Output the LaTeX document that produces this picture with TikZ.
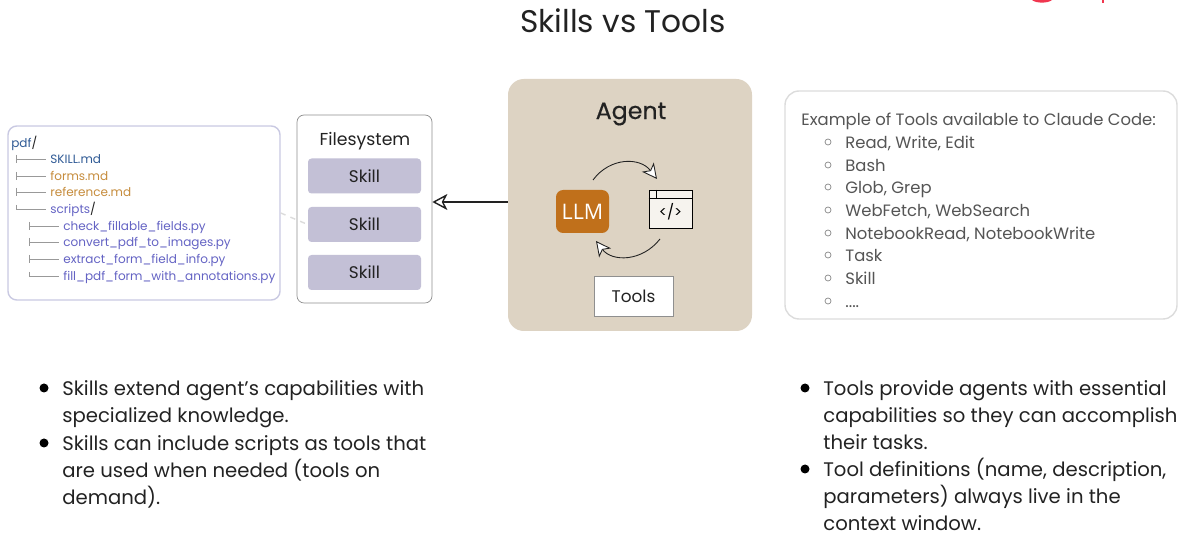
\documentclass[tikz,border=0pt]{standalone}
\usepackage{fontspec}
\setmainfont{Poppins}
\newfontfamily\agentfont[FakeBold=0.5]{Poppins}
\newfontfamily\llmfont{Open Sans}
\usetikzlibrary{positioning, arrows.meta}
\definecolor{panelstroke}{HTML}{c9c9e2}
\definecolor{boxstroke}{HTML}{8f8f8f}
\definecolor{skillfill}{HTML}{c3c0d6}
\definecolor{agentfill}{HTML}{ddd3c3}
\definecolor{llmfill}{HTML}{c0701b}
\definecolor{winfill}{HTML}{f6f3ee}
\definecolor{inkdark}{HTML}{222222}
\definecolor{inkgrey}{HTML}{555555}
\definecolor{toolstroke}{HTML}{dcdcdc}
\definecolor{treeblue}{HTML}{2f5a95}
\definecolor{treeorange}{HTML}{c68c3c}
\definecolor{treeviolet}{HTML}{6463c4}
\definecolor{logored}{HTML}{f0364f}

\begin{document}
\begin{tikzpicture}[
  x=0.02cm, y=-0.02cm,
  font=\fontsize{11.18}{15.4}\selectfont,
  panel/.style={rectangle, rounded corners=5pt, draw=panelstroke, thick, fill=white,
                minimum width=272*0.02cm, minimum height=174*0.02cm, inner sep=0pt},
  fsbox/.style={rectangle, rounded corners=4pt, draw=boxstroke, fill=white,
                minimum width=135*0.02cm, minimum height=188*0.02cm, inner sep=0pt},
  skill/.style={rectangle, rounded corners=2pt, fill=skillfill, text=inkdark,
                minimum width=113*0.02cm, minimum height=35*0.02cm, inner sep=0pt,
                font=\fontsize{9.6}{12}\selectfont},
  agent/.style={rectangle, rounded corners=9pt, fill=agentfill,
                minimum width=244*0.02cm, minimum height=252*0.02cm, inner sep=0pt},
  llm/.style={rectangle, rounded corners=4pt, fill=llmfill, text=white,
              minimum width=53*0.02cm, minimum height=43*0.02cm, inner sep=0pt,
              font=\llmfont\fontsize{12.2}{15}\selectfont},
  window/.style={rectangle, draw=black, fill=winfill,
                 minimum width=43*0.02cm, minimum height=38*0.02cm, inner sep=0pt},
  toolsbox/.style={rectangle, draw=boxstroke, fill=white, text=inkdark,
                   minimum width=79*0.02cm, minimum height=40*0.02cm, inner sep=0pt,
                   font=\fontsize{9.6}{12}\selectfont},
  listbox/.style={rectangle, rounded corners=8pt, draw=toolstroke, thick, fill=white,
                  minimum width=392*0.02cm, minimum height=228*0.02cm, inner sep=0pt},
  heading/.style={anchor=center, text=inkdark, inner sep=0pt},
  treetext/.style={anchor=west, inner sep=0pt, text height=6.5pt, text depth=1.5pt,
                   font=\fontsize{6.85}{9}\selectfont},
  treeline/.style={draw=inkgrey!60, line width=0.5pt},
  listtext/.style={anchor=west, inner sep=0pt, text=inkgrey, text height=9.6pt, text depth=2.4pt,
                   font=\fontsize{9.35}{12}\selectfont},
  listmark/.style={circle, draw=inkgrey!70, minimum size=6*0.02cm, inner sep=0pt},
  bullettext/.style={anchor=north west, align=left, inner sep=0pt, text=inkdark},
  bulletmark/.style={circle, fill=black, minimum size=9*0.02cm, inner sep=0pt},
  loop/.style={-{Stealth[length=3mm, width=3mm, inset=0.8mm, fill=white]}, draw=inkdark, line width=0.5pt},
  arrow/.style={-{Stealth[length=3mm, width=3.2mm, inset=0.8mm, fill=white]}, draw=inkdark, line width=0.8pt}
]
\useasboundingbox (0,0) rectangle (1182,546);

% Logo cut off by the top edge
\fill[logored] (1032,0) .. controls (1036,3.5) and (1048,3.5) .. (1052,0) -- cycle;
\fill[logored] (1102,0) rectangle (1104,3);

\node[heading, font=\fontsize{17.8}{22}\selectfont] (title) at (623,21) {Skills vs Tools};

% File tree panel
\node[panel] (tree) at (144,213) {};
\node[treetext, text=treeblue] (root) at (11,143) {pdf\textcolor{inkdark}{/}};
\foreach \name/\px/\py/\clr/\txt in {
    skillmd/50/159/treeblue/SKILL.md,
    forms/50/176/treeorange/forms.md,
    reference/50/192/treeorange/reference.md,
    scripts/50/209/treeviolet/scripts\textcolor{inkdark}{/},
    check/63/226/treeviolet/check\_fillable\_fields.py,
    convert/63/242/treeviolet/convert\_pdf\_to\_images.py,
    extract/63/259/treeviolet/extract\_form\_field\_info.py,
    fill/63/276/treeviolet/fill\_pdf\_form\_with\_annotations.py} {
  \node[treetext, text=\clr] (\name) at (\px,\py) {\txt};
  \draw[treeline] ([xshift=-34*0.02cm]\name.west) -- ([xshift=-4*0.02cm]\name.west);
  \draw[treeline] ([xshift=-34*0.02cm, yshift=4*0.02cm]\name.west) -- ([xshift=-34*0.02cm]\name.west);
}
% Lower half of the ticks, except on the last row of each level
\foreach \name in {skillmd, forms, reference, check, convert, extract} {
  \draw[treeline] ([xshift=-34*0.02cm]\name.west) -- ([xshift=-34*0.02cm, yshift=-4*0.02cm]\name.west);
}

% Filesystem
\node[fsbox] (fs) at (364.5,209) {};
\node[heading, font=\fontsize{9.85}{13}\selectfont] (fslabel) at (365,141) {Filesystem};
\node[skill] (skilla) at (364.5,176) {Skill};
\node[skill] (skillb) at (364.5,224.5) {Skill};
\node[skill] (skillc) at (364.5,272.5) {Skill};

% Agent
\node[agent] (agent) at (630,205) {};
\node[heading, font=\agentfont\fontsize{13.5}{16}\selectfont] (agentlabel) at (631,114) {Agent};
\node[llm] (llm) at (582.5,211.5) {LLM};
\node[window] (win) at (670.5,209) {};
\coordinate (winl) at (win.west |- 0,198);
\coordinate (winr) at (win.east |- 0,198);
\draw[line width=0.5pt] (winl) -- (winr);
\draw[line width=0.5pt] (656,190) -- (656,198);
\node[inner sep=0pt, font=\fontsize{8.5}{10}\selectfont] (code) at (670.5,212) {</>};
\node[toolsbox] (tools) at (633.5,296) {Tools};

\coordinate (loopa) at (593,180);
\coordinate (loopb) at (657,179);
\coordinate (loopc) at (660,239);
\coordinate (loopd) at (596,241);
\draw[loop] (loopa) .. controls (610,157) and (640,157) .. (loopb);
\draw[loop] (loopc) .. controls (642,262) and (612,262) .. (loopd);

\draw[arrow] (agent.west |- 0,202) -- (fs.east |- 0,202);
\draw[draw=toolstroke, dashed, thick] (tree.east |- 0,213) -- (skillb.west);

% Tool list
\node[listbox] (list) at (981,205) {};
\node[listtext] (listhead) at (801,119) {Example of Tools available to Claude Code:};
\foreach \n/\py/\txt in {
    a/142/{Read, Write, Edit}, b/165/Bash, c/187/{Glob, Grep},
    d/210/{WebFetch, WebSearch}, e/233/{NotebookRead, NotebookWrite},
    f/255/Task, g/278/Skill, h/301/{....}} {
  \node[listtext] (item\n) at (845,\py) {\txt};
  \node[listmark] (mark\n) at (828,\py) {};
}

% Bullets
\node[bullettext] (ba) at (62,380) {Skills extend agent’s capabilities with\\specialized knowledge.};
\node[bullettext] (bb) at (62,435) {Skills can include scripts as tools that\\are used when needed (tools on\\demand).};
\node[bullettext] (bc) at (823,380) {Tools provide agents with essential\\capabilities so they can accomplish\\their tasks.};
\node[bullettext] (bd) at (823,458) {Tool definitions (name, description,\\parameters) always live in the\\context window.};
\node[bulletmark] (ma) at (44,388) {};
\node[bulletmark] (mb) at (44,443) {};
\node[bulletmark] (mc) at (805,388) {};
\node[bulletmark] (md) at (805,469) {};

\end{tikzpicture}
\end{document}
